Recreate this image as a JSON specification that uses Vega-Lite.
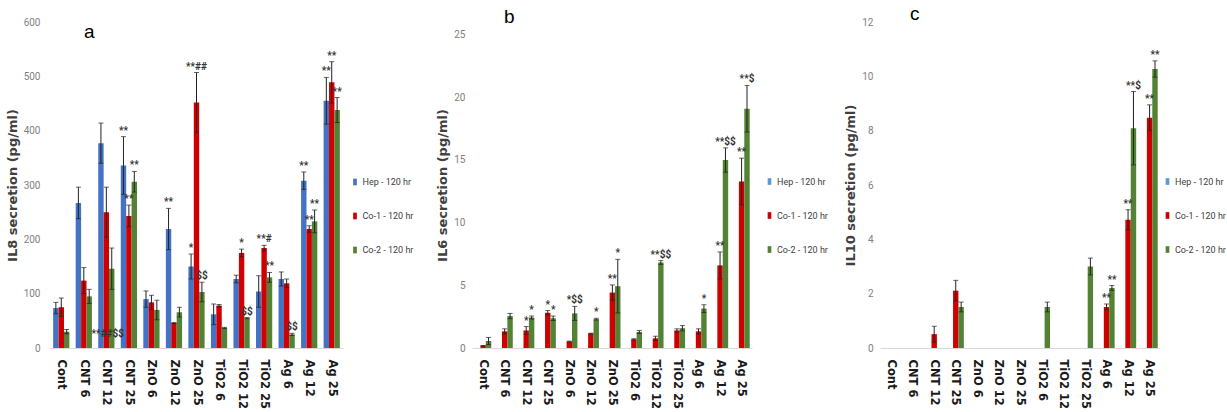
{
  "$schema": "https://vega.github.io/schema/vega-lite/v6.json",
  "padding": {"top": 5, "left": 6, "right": 0, "bottom": 0},
  "background": "white",
  "datasets": {
    "il8": [
      {"cat": "Cont", "grp": "Hep - 120 hr", "v": 73.5, "lo": 63, "hi": 84},
      {"cat": "Cont", "grp": "Co-1 - 120 hr", "v": 75, "lo": 58, "hi": 92},
      {"cat": "Cont", "grp": "Co-2 - 120 hr", "v": 30, "lo": 26, "hi": 34},
      {"cat": "CNT 6", "grp": "Hep - 120 hr", "v": 267, "lo": 238, "hi": 296},
      {"cat": "CNT 6", "grp": "Co-1 - 120 hr", "v": 124, "lo": 100, "hi": 148},
      {"cat": "CNT 6", "grp": "Co-2 - 120 hr", "v": 95, "lo": 82, "hi": 108},
      {"cat": "CNT 12", "grp": "Hep - 120 hr", "v": 377, "lo": 340, "hi": 414},
      {"cat": "CNT 12", "grp": "Co-1 - 120 hr", "v": 250, "lo": 204, "hi": 296},
      {"cat": "CNT 12", "grp": "Co-2 - 120 hr", "v": 146, "lo": 108, "hi": 184, "annBase": "**##$$"},
      {"cat": "CNT 25", "grp": "Hep - 120 hr", "v": 336, "lo": 283, "hi": 389, "ann": "**"},
      {"cat": "CNT 25", "grp": "Co-1 - 120 hr", "v": 243, "lo": 223, "hi": 263, "ann": "**"},
      {"cat": "CNT 25", "grp": "Co-2 - 120 hr", "v": 306, "lo": 287, "hi": 325, "ann": "**"},
      {"cat": "ZnO 6", "grp": "Hep - 120 hr", "v": 90, "lo": 75, "hi": 105},
      {"cat": "ZnO 6", "grp": "Co-1 - 120 hr", "v": 84, "lo": 71, "hi": 97},
      {"cat": "ZnO 6", "grp": "Co-2 - 120 hr", "v": 70, "lo": 52, "hi": 88},
      {"cat": "ZnO 12", "grp": "Hep - 120 hr", "v": 219, "lo": 181, "hi": 257, "ann": "**"},
      {"cat": "ZnO 12", "grp": "Co-1 - 120 hr", "v": 46, "lo": 45, "hi": 47},
      {"cat": "ZnO 12", "grp": "Co-2 - 120 hr", "v": 66, "lo": 57, "hi": 75},
      {"cat": "ZnO 25", "grp": "Hep - 120 hr", "v": 150, "lo": 127, "hi": 173, "ann": "*"},
      {"cat": "ZnO 25", "grp": "Co-1 - 120 hr", "v": 452, "lo": 397, "hi": 507, "ann": "**##"},
      {"cat": "ZnO 25", "grp": "Co-2 - 120 hr", "v": 103, "lo": 85, "hi": 121, "ann": "$$"},
      {"cat": "TiO2 6", "grp": "Hep - 120 hr", "v": 62, "lo": 43, "hi": 81},
      {"cat": "TiO2 6", "grp": "Co-1 - 120 hr", "v": 78, "lo": 76, "hi": 80},
      {"cat": "TiO2 6", "grp": "Co-2 - 120 hr", "v": 37, "lo": 36, "hi": 38},
      {"cat": "TiO2 12", "grp": "Hep - 120 hr", "v": 127, "lo": 120, "hi": 134},
      {"cat": "TiO2 12", "grp": "Co-1 - 120 hr", "v": 175, "lo": 168, "hi": 182, "ann": "*"},
      {"cat": "TiO2 12", "grp": "Co-2 - 120 hr", "v": 55, "lo": 54, "hi": 56, "ann": "$$"},
      {"cat": "TiO2 25", "grp": "Hep - 120 hr", "v": 104, "lo": 75, "hi": 133},
      {"cat": "TiO2 25", "grp": "Co-1 - 120 hr", "v": 184, "lo": 179, "hi": 189, "ann": "**#"},
      {"cat": "TiO2 25", "grp": "Co-2 - 120 hr", "v": 130, "lo": 121, "hi": 139, "ann": "**"},
      {"cat": "Ag 6", "grp": "Hep - 120 hr", "v": 127, "lo": 114, "hi": 140},
      {"cat": "Ag 6", "grp": "Co-1 - 120 hr", "v": 119, "lo": 111, "hi": 127},
      {"cat": "Ag 6", "grp": "Co-2 - 120 hr", "v": 25, "lo": 23, "hi": 27, "ann": "$$"},
      {"cat": "Ag 12", "grp": "Hep - 120 hr", "v": 308, "lo": 292, "hi": 324, "ann": "**"},
      {"cat": "Ag 12", "grp": "Co-1 - 120 hr", "v": 219, "lo": 213, "hi": 225, "ann": "**"},
      {"cat": "Ag 12", "grp": "Co-2 - 120 hr", "v": 233, "lo": 212, "hi": 254, "ann": "**"},
      {"cat": "Ag 25", "grp": "Hep - 120 hr", "v": 455, "lo": 412, "hi": 498, "ann": "**"},
      {"cat": "Ag 25", "grp": "Co-1 - 120 hr", "v": 489, "lo": 451, "hi": 527, "ann": "**"},
      {"cat": "Ag 25", "grp": "Co-2 - 120 hr", "v": 438, "lo": 415, "hi": 461, "ann": "**"}
    ],
    "il6": [
      {"cat": "Cont", "grp": "Co-1 - 120 hr", "v": 0.18, "lo": 0.16, "hi": 0.2},
      {"cat": "Cont", "grp": "Co-2 - 120 hr", "v": 0.56, "lo": 0.28, "hi": 0.84},
      {"cat": "CNT 6", "grp": "Co-1 - 120 hr", "v": 1.33, "lo": 1.13, "hi": 1.53},
      {"cat": "CNT 6", "grp": "Co-2 - 120 hr", "v": 2.55, "lo": 2.34, "hi": 2.76},
      {"cat": "CNT 12", "grp": "Co-1 - 120 hr", "v": 1.4, "lo": 1.09, "hi": 1.71, "ann": "*"},
      {"cat": "CNT 12", "grp": "Co-2 - 120 hr", "v": 2.43, "lo": 2.31, "hi": 2.55, "ann": "*"},
      {"cat": "CNT 25", "grp": "Co-1 - 120 hr", "v": 2.81, "lo": 2.63, "hi": 2.99, "ann": "*"},
      {"cat": "CNT 25", "grp": "Co-2 - 120 hr", "v": 2.37, "lo": 2.19, "hi": 2.55, "ann": "*"},
      {"cat": "ZnO 6", "grp": "Co-1 - 120 hr", "v": 0.51, "lo": 0.47, "hi": 0.55},
      {"cat": "ZnO 6", "grp": "Co-2 - 120 hr", "v": 2.76, "lo": 2.2, "hi": 3.32, "ann": "*$$"},
      {"cat": "ZnO 12", "grp": "Co-1 - 120 hr", "v": 1.15, "lo": 1.12, "hi": 1.18},
      {"cat": "ZnO 12", "grp": "Co-2 - 120 hr", "v": 2.3, "lo": 2.23, "hi": 2.37, "ann": "*"},
      {"cat": "ZnO 25", "grp": "Co-1 - 120 hr", "v": 4.42, "lo": 3.81, "hi": 5.03, "ann": "**"},
      {"cat": "ZnO 25", "grp": "Co-2 - 120 hr", "v": 4.93, "lo": 2.79, "hi": 7.07, "ann": "*"},
      {"cat": "TiO2 6", "grp": "Co-1 - 120 hr", "v": 0.69, "lo": 0.64, "hi": 0.74},
      {"cat": "TiO2 6", "grp": "Co-2 - 120 hr", "v": 1.28, "lo": 1.16, "hi": 1.4},
      {"cat": "TiO2 12", "grp": "Co-1 - 120 hr", "v": 0.77, "lo": 0.6, "hi": 0.94},
      {"cat": "TiO2 12", "grp": "Co-2 - 120 hr", "v": 6.82, "lo": 6.67, "hi": 6.97, "ann": "**$$"},
      {"cat": "TiO2 25", "grp": "Co-1 - 120 hr", "v": 1.4, "lo": 1.27, "hi": 1.53},
      {"cat": "TiO2 25", "grp": "Co-2 - 120 hr", "v": 1.58, "lo": 1.37, "hi": 1.79},
      {"cat": "Ag 6", "grp": "Co-1 - 120 hr", "v": 1.33, "lo": 1.13, "hi": 1.53},
      {"cat": "Ag 6", "grp": "Co-2 - 120 hr", "v": 3.14, "lo": 2.83, "hi": 3.45, "ann": "*"},
      {"cat": "Ag 12", "grp": "Co-1 - 120 hr", "v": 6.59, "lo": 5.52, "hi": 7.66, "ann": "**"},
      {"cat": "Ag 12", "grp": "Co-2 - 120 hr", "v": 14.99, "lo": 14.02, "hi": 15.96, "ann": "**$$"},
      {"cat": "Ag 25", "grp": "Co-1 - 120 hr", "v": 13.28, "lo": 11.42, "hi": 15.14, "ann": "**"},
      {"cat": "Ag 25", "grp": "Co-2 - 120 hr", "v": 19.08, "lo": 17.22, "hi": 20.94, "ann": "**$"}
    ],
    "il10": [
      {"cat": "CNT 12", "grp": "Co-1 - 120 hr", "v": 0.51, "lo": 0.22, "hi": 0.8},
      {"cat": "CNT 25", "grp": "Co-1 - 120 hr", "v": 2.11, "lo": 1.73, "hi": 2.49},
      {"cat": "CNT 25", "grp": "Co-2 - 120 hr", "v": 1.51, "lo": 1.33, "hi": 1.69},
      {"cat": "TiO2 6", "grp": "Co-2 - 120 hr", "v": 1.51, "lo": 1.33, "hi": 1.69},
      {"cat": "TiO2 25", "grp": "Co-2 - 120 hr", "v": 3.0, "lo": 2.69, "hi": 3.31},
      {"cat": "Ag 6", "grp": "Co-1 - 120 hr", "v": 1.51, "lo": 1.4, "hi": 1.62, "ann": "**"},
      {"cat": "Ag 6", "grp": "Co-2 - 120 hr", "v": 2.21, "lo": 2.12, "hi": 2.3, "ann": "**"},
      {"cat": "Ag 12", "grp": "Co-1 - 120 hr", "v": 4.72, "lo": 4.35, "hi": 5.09, "ann": "**"},
      {"cat": "Ag 12", "grp": "Co-2 - 120 hr", "v": 8.09, "lo": 6.74, "hi": 9.44, "ann": "**$"},
      {"cat": "Ag 25", "grp": "Co-1 - 120 hr", "v": 8.48, "lo": 8.01, "hi": 8.95, "ann": "**"},
      {"cat": "Ag 25", "grp": "Co-2 - 120 hr", "v": 10.27, "lo": 9.97, "hi": 10.57, "ann": "**"}
    ]
  },
  "hconcat": [
    {
      "width": 293,
      "height": 326,
      "title": {"text": "a", "offset": -25, "dx": 34},
      "data": {"name": "il8"},
      "encoding": {
        "x": {"field": "cat", "type": "nominal", "title": null,
          "scale": {"domain": ["Cont", "CNT 6", "CNT 12", "CNT 25", "ZnO 6", "ZnO 12", "ZnO 25", "TiO2 6", "TiO2 12", "TiO2 25", "Ag 6", "Ag 12", "Ag 25"], "paddingInner": 0.28, "paddingOuter": 0.14}},
        "xOffset": {"field": "grp", "type": "nominal", "scale": {"domain": ["Hep - 120 hr", "Co-1 - 120 hr", "Co-2 - 120 hr"]}}
      },
      "layer": [
        {
          "mark": "bar",
          "encoding": {
            "y": {"field": "v", "type": "quantitative", "title": "IL8 secretion (pg/ml)",
              "scale": {"domain": [0, 600]}, "axis": {"values": [0, 100, 200, 300, 400, 500, 600], "labelPadding": 10}},
            "color": {"field": "grp", "type": "nominal",
              "scale": {"domain": ["Hep - 120 hr", "Co-1 - 120 hr", "Co-2 - 120 hr"], "range": ["#4472C4", "#D00000", "#548235"]},
              "legend": {"legendX": 294, "legendY": 149, "padding": 6.5}}
          }
        },
        {"mark": {"type": "rule", "color": "#222", "strokeWidth": 1},
          "encoding": {"y": {"field": "lo", "type": "quantitative"}, "y2": {"field": "hi"}}},
        {"mark": {"type": "tick", "color": "#222", "size": 5, "thickness": 1},
          "encoding": {"y": {"field": "hi", "type": "quantitative"}}},
        {"mark": {"type": "tick", "color": "#222", "size": 5, "thickness": 1},
          "encoding": {"y": {"field": "lo", "type": "quantitative"}}},
        {"transform": [{"filter": "datum.ann"}],
          "mark": {"type": "text", "baseline": "bottom", "dy": -1, "fontSize": 10, "fontWeight": "bold", "color": "#333", "font": "Roboto, sans-serif"},
          "encoding": {"y": {"field": "hi", "type": "quantitative"}, "text": {"field": "ann"}}},
        {"transform": [{"filter": "datum.annBase"}],
          "mark": {"type": "text", "baseline": "middle", "dy": -14, "dx": -4, "fontSize": 10, "fontWeight": "bold", "color": "#333", "font": "Roboto, sans-serif"},
          "encoding": {"y": {"datum": 0, "type": "quantitative"}, "text": {"field": "annBase"}}}
      ]
    },
    {
      "width": 280,
      "height": 326,
      "title": {"text": "b", "offset": -5, "dx": 32},
      "data": {"name": "il6"},
      "encoding": {
        "x": {"field": "cat", "type": "nominal", "title": null,
          "scale": {"domain": ["Cont", "CNT 6", "CNT 12", "CNT 25", "ZnO 6", "ZnO 12", "ZnO 25", "TiO2 6", "TiO2 12", "TiO2 25", "Ag 6", "Ag 12", "Ag 25"], "paddingInner": 0.28, "paddingOuter": 0.14}},
        "xOffset": {"field": "grp", "type": "nominal", "scale": {"domain": ["Hep - 120 hr", "Co-1 - 120 hr", "Co-2 - 120 hr"]}}
      },
      "layer": [
        {
          "mark": "bar",
          "encoding": {
            "y": {"field": "v", "type": "quantitative", "title": "IL6 secretion (pg/ml)",
              "scale": {"domain": [0, 25]}, "axis": {"values": [0, 5, 10, 15, 20, 25], "labelPadding": 7}},
            "color": {"field": "grp", "type": "nominal",
              "scale": {"domain": ["Hep - 120 hr", "Co-1 - 120 hr", "Co-2 - 120 hr"], "range": ["#5B9BD5", "#D00000", "#548235"]},
              "legend": {"legendX": 293, "legendY": 155}}
          }
        },
        {"mark": {"type": "rule", "color": "#222", "strokeWidth": 1},
          "encoding": {"y": {"field": "lo", "type": "quantitative"}, "y2": {"field": "hi"}}},
        {"mark": {"type": "tick", "color": "#222", "size": 5, "thickness": 1},
          "encoding": {"y": {"field": "hi", "type": "quantitative"}}},
        {"mark": {"type": "tick", "color": "#222", "size": 5, "thickness": 1},
          "encoding": {"y": {"field": "lo", "type": "quantitative"}}},
        {"transform": [{"filter": "datum.ann"}],
          "mark": {"type": "text", "baseline": "bottom", "dy": -1, "fontSize": 10, "fontWeight": "bold", "color": "#333", "font": "Roboto, sans-serif"},
          "encoding": {"y": {"field": "hi", "type": "quantitative"}, "text": {"field": "ann"}}}
      ]
    },
    {
      "width": 280,
      "height": 326,
      "title": {"text": "c", "offset": -7, "dx": 30},
      "data": {"name": "il10"},
      "encoding": {
        "x": {"field": "cat", "type": "nominal", "title": null,
          "scale": {"domain": ["Cont", "CNT 6", "CNT 12", "CNT 25", "ZnO 6", "ZnO 12", "ZnO 25", "TiO2 6", "TiO2 12", "TiO2 25", "Ag 6", "Ag 12", "Ag 25"], "paddingInner": 0.28, "paddingOuter": 0.14}},
        "xOffset": {"field": "grp", "type": "nominal", "scale": {"domain": ["Hep - 120 hr", "Co-1 - 120 hr", "Co-2 - 120 hr"]}}
      },
      "layer": [
        {
          "mark": "bar",
          "encoding": {
            "y": {"field": "v", "type": "quantitative", "title": "IL10 secretion (pg/ml)",
              "scale": {"domain": [0, 12]}, "axis": {"values": [0, 2, 4, 6, 8, 10, 12], "labelPadding": 7}},
            "color": {"field": "grp", "type": "nominal",
              "scale": {"domain": ["Hep - 120 hr", "Co-1 - 120 hr", "Co-2 - 120 hr"], "range": ["#5B9BD5", "#D00000", "#548235"]},
              "legend": {"legendX": 283, "legendY": 155}}
          }
        },
        {"mark": {"type": "rule", "color": "#222", "strokeWidth": 1},
          "encoding": {"y": {"field": "lo", "type": "quantitative"}, "y2": {"field": "hi"}}},
        {"mark": {"type": "tick", "color": "#222", "size": 5, "thickness": 1},
          "encoding": {"y": {"field": "hi", "type": "quantitative"}}},
        {"mark": {"type": "tick", "color": "#222", "size": 5, "thickness": 1},
          "encoding": {"y": {"field": "lo", "type": "quantitative"}}},
        {"transform": [{"filter": "datum.ann"}],
          "mark": {"type": "text", "baseline": "bottom", "dy": -1, "fontSize": 10, "fontWeight": "bold", "color": "#333", "font": "Roboto, sans-serif"},
          "encoding": {"y": {"field": "hi", "type": "quantitative"}, "text": {"field": "ann"}}}
      ]
    }
  ],
  "spacing": 16,
  "resolve": {"scale": {"color": "independent", "y": "independent", "x": "independent"}, "legend": {"color": "independent"}},
  "config": {
    "view": {"stroke": null},
    "title": {"anchor": "start", "frame": "group", "fontSize": 19, "fontWeight": "normal", "font": "Liberation Sans", "color": "#000"},
    "axisY": {"domain": false, "ticks": false, "grid": false, "labelFont": "Roboto, sans-serif", "labelFontSize": 10, "labelColor": "#7f7f7f",
      "titleFont": "DejaVu Sans", "titleFontSize": 13, "titleFontWeight": "bold", "titleColor": "#404040", "titlePadding": 4},
    "axisX": {"domain": true, "domainColor": "#d9d9d9", "ticks": false, "grid": false, "labelAngle": 90, "labelAlign": "left", "labelBaseline": "middle",
      "labelFont": "DejaVu Sans", "labelFontSize": 11.5, "labelFontWeight": "bold", "labelColor": "#1a1a1a", "labelPadding": 11},
    "legend": {"orient": "none", "title": null, "symbolType": "M-0.55,-1H0.55V1H-0.55Z", "symbolSize": 45, "symbolStrokeWidth": 0,
      "labelFont": "Roboto, sans-serif", "labelFontSize": 9, "labelColor": "#404040", "rowPadding": 24, "labelOffset": 3}
  }
}
